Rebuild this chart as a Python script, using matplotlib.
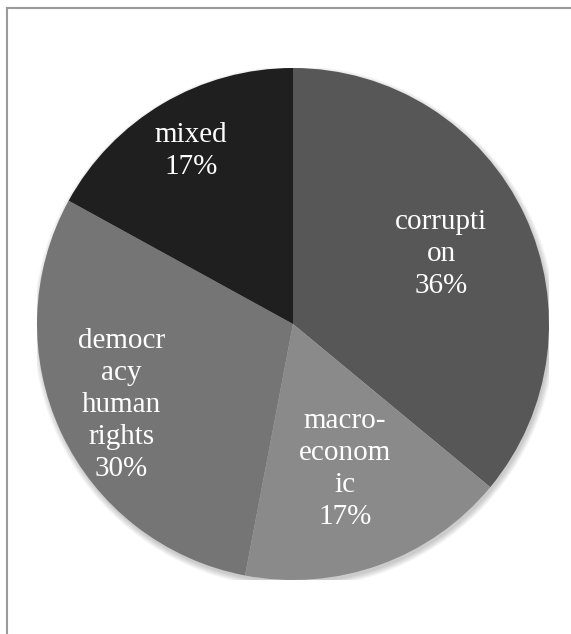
import matplotlib
matplotlib.use("Agg")
import matplotlib.pyplot as plt
import matplotlib.patches as mpatches
from matplotlib.lines import Line2D
import numpy as np

# slice data, clockwise from 12 o'clock
labels = ["corrupti\non", "macro-\neconom\nic", "democr\nacy\nhuman\nrights", "mixed"]
values = [36, 17, 30, 17]
colours = ["#575757", "#8a8a8a", "#757575", "#1f1f1f"]
label_r = [0.64, 0.60, 0.74, 0.785]

fig = plt.figure(figsize=(5.71, 6.34), dpi=100)
W, H = 571, 634
cx, cy, r = 293, 324, 256
ax = fig.add_axes([(cx - r) / W, (H - cy - r) / H, 2 * r / W, 2 * r / H])

# soft shadow under the pie
for i in range(6):
    sh = mpatches.Circle((0.006, -0.012), 1.0 + 0.004 * i, color="black",
                         alpha=0.035, lw=0, zorder=0)
    ax.add_patch(sh)

wedges, _ = ax.pie(values, colors=colours, startangle=90, counterclock=False,
                   radius=1.0, wedgeprops=dict(linewidth=0))
for w in wedges:
    w.set_zorder(2)

total = sum(values)
for w, lab, v, lr in zip(wedges, labels, values, label_r):
    mid = np.deg2rad((w.theta1 + w.theta2) / 2)
    txt = f"{lab}\n{round(100 * v / total)}%"
    ax.text(lr * np.cos(mid), lr * np.sin(mid), txt, ha="center", va="center",
            color="white", fontsize=21, family="Liberation Serif",
            linespacing=1.3, zorder=3)

ax.set_xlim(-1, 1)
ax.set_ylim(-1, 1)
ax.set_aspect("equal")
ax.axis("off")

# chart area border (only left and top fall inside the image)
x0 = 7 / W
y0 = (H - 8) / H
fig.add_artist(Line2D([x0, x0], [0, y0], transform=fig.transFigure,
                      color="#9a9a9a", linewidth=1.5))
fig.add_artist(Line2D([x0, 1], [y0, y0], transform=fig.transFigure,
                      color="#9a9a9a", linewidth=1.5))

fig.savefig("out.png", dpi=100)
